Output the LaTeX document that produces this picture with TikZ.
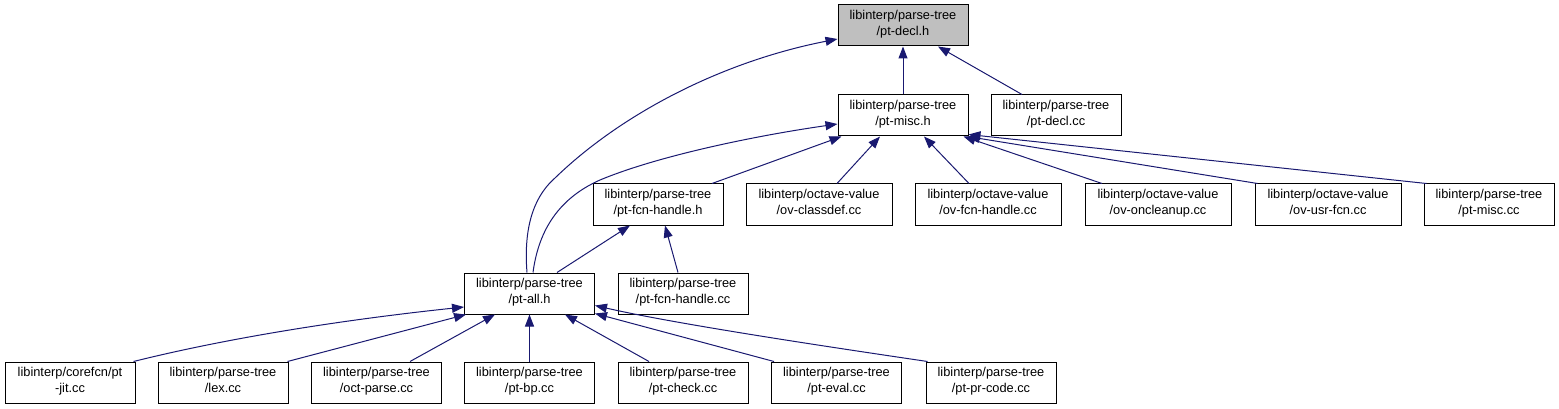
\documentclass[tikz,border=0pt]{standalone}
\usepackage{fontspec}
\setmainfont{Liberation Sans}
\usetikzlibrary{arrows.meta}
\definecolor{edgeblue}{HTML}{191970}
\definecolor{rootgray}{HTML}{BFBFBF}
\begin{document}
\begin{tikzpicture}[x=1pt,y=-1pt,
  box/.style={draw=black, line width=1pt, fill=white, rectangle, inner sep=0pt,
    minimum height=41pt, align=center, font=\fontsize{12.8}{16}\selectfont,
    execute at begin node=\strut, execute at end node=\strut},
  wbox/.style={box, minimum width=130pt},
  vbox/.style={box, minimum width=146pt},
  dep/.style={draw=edgeblue, line width=1pt, -{Triangle[length=12pt,width=9pt]}}
]
\useasboundingbox (0,0) rectangle (1559,409);

% nodes
\node[wbox, fill=rootgray] (declh) at (903,25.5) {libinterp/parse-tree\\/pt-decl.h};
\node[wbox] (misch) at (903,115.5) {libinterp/parse-tree\\/pt-misc.h};
\node[wbox] (declcc) at (1056,115.5) {libinterp/parse-tree\\/pt-decl.cc};

\node[wbox] (fcnhh) at (658,204.5) {libinterp/parse-tree\\/pt-fcn-handle.h};
\node[vbox] (classdef) at (819,204.5) {libinterp/octave-value\\/ov-classdef.cc};
\node[vbox] (ovfcnh) at (988,204.5) {libinterp/octave-value\\/ov-fcn-handle.cc};
\node[vbox] (oncleanup) at (1158,204.5) {libinterp/octave-value\\/ov-oncleanup.cc};
\node[vbox] (usrfcn) at (1328,204.5) {libinterp/octave-value\\/ov-usr-fcn.cc};
\node[wbox] (misccc) at (1489,204.5) {libinterp/parse-tree\\/pt-misc.cc};

\node[wbox] (allh) at (529.5,293.5) {libinterp/parse-tree\\/pt-all.h};
\node[wbox] (fcnhcc) at (683,293.5) {libinterp/parse-tree\\/pt-fcn-handle.cc};

\node[wbox] (jit) at (70,382.5) {libinterp/corefcn/pt\\-jit.cc};
\node[wbox] (lex) at (223,382.5) {libinterp/parse-tree\\/lex.cc};
\node[wbox] (octparse) at (376.5,382.5) {libinterp/parse-tree\\/oct-parse.cc};
\node[wbox] (bp) at (529.5,382.5) {libinterp/parse-tree\\/pt-bp.cc};
\node[wbox] (check) at (683,382.5) {libinterp/parse-tree\\/pt-check.cc};
\node[wbox] (eval) at (836.5,382.5) {libinterp/parse-tree\\/pt-eval.cc};
\node[wbox] (prcode) at (991,382.5) {libinterp/parse-tree\\/pt-pr-code.cc};

% edges into pt-decl.h
\draw[dep] (misch.north) -- (declh.south);
\draw[dep] ([xshift=-34pt]declcc.north) -- ([xshift=35pt]declh.south);
\draw[dep] ([xshift=-2.5pt]allh.north) .. controls (524,235) and (530,200) .. (555,178)
  .. controls (620,115) and (720,62) .. ([yshift=-13.5pt]declh.west);

% edges into pt-misc.h
\draw[dep] ([xshift=3.5pt]allh.north) .. controls (538,235) and (555,200) .. (600,180)
  .. controls (660,155) and (760,135) .. ([yshift=-8.5pt]misch.west);
\draw[dep] ([xshift=54pt]fcnhh.north) -- ([xshift=4pt]misch.south west);
\draw[dep] ([xshift=18pt]classdef.north) -- ([xshift=-23pt]misch.south);
\draw[dep] ([xshift=-19pt]ovfcnh.north) -- ([xshift=21pt]misch.south);
\draw[dep] ([xshift=-56pt]oncleanup.north) -- ([xshift=-5pt]misch.south east);
\draw[dep] ([xshift=3pt]usrfcn.north west) -- ([xshift=-1pt]misch.south east);
\draw[dep] ([xshift=3pt]misccc.north west) -- ([yshift=2pt]misch.south east);

% edges into pt-fcn-handle.h
\draw[dep] ([xshift=27.5pt]allh.north) -- ([xshift=-28pt]fcnhh.south);
\draw[dep] ([xshift=-5pt]fcnhcc.north) -- ([xshift=7pt]fcnhh.south);

% edges into pt-all.h
\draw[dep] ([xshift=-2pt]jit.north east) .. controls (240,335) and (360,318) .. ([yshift=-13.5pt]allh.west);
\draw[dep] ([xshift=-1pt]lex.north east) -- ([xshift=2pt]allh.south west);
\draw[dep] ([xshift=33.5pt]octparse.north) -- ([xshift=-34.5pt]allh.south);
\draw[dep] (bp.north) -- (allh.south);
\draw[dep] ([xshift=-34pt]check.north) -- ([xshift=35.5pt]allh.south);
\draw[dep] ([xshift=3pt]eval.north west) -- ([yshift=1pt]allh.south east);
\draw[dep] ([xshift=2pt]prcode.north west) .. controls (850,350) and (680,325) .. ([yshift=-12pt]allh.east);
\end{tikzpicture}
\end{document}
